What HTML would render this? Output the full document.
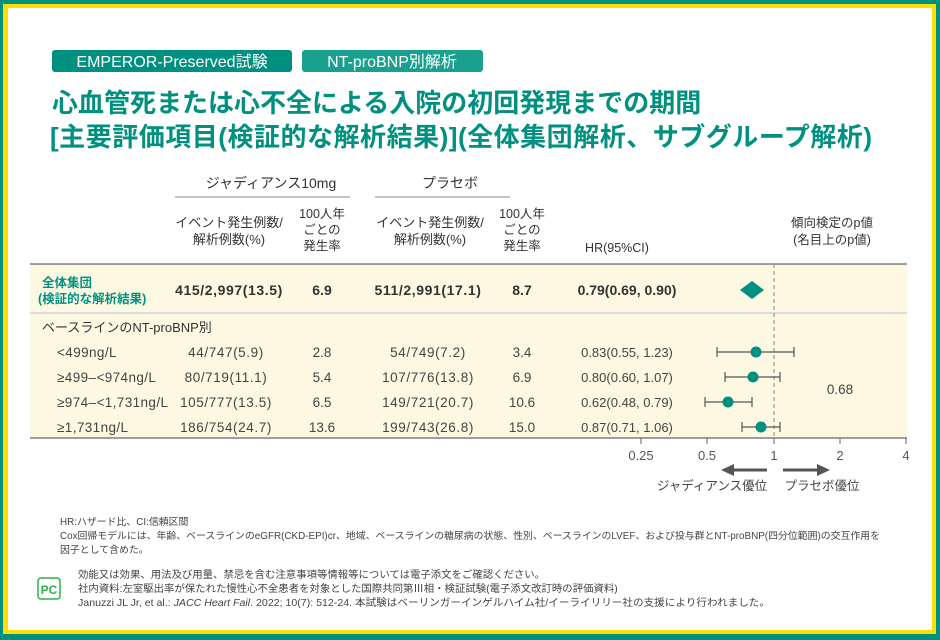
<!DOCTYPE html>
<html><head><meta charset="utf-8"><style>
body{margin:0;width:940px;height:640px;overflow:hidden;background:#fff;font-family:"Liberation Sans","Noto Sans CJK JP",sans-serif;}
</style></head><body>
<svg width="940" height="640" xmlns="http://www.w3.org/2000/svg" style="position:absolute;left:0;top:0;font-family:'Liberation Sans','Noto Sans CJK JP',sans-serif">
<rect x="0" y="0" width="940" height="640" fill="#009080"/>
<rect x="3" y="4" width="933" height="630" fill="#ffdf00"/>
<rect x="8" y="8" width="924" height="622" fill="#fff"/>
<rect x="52" y="50" width="240" height="22" rx="3" fill="#00907f"/>
<rect x="302" y="50" width="181" height="22" rx="3" fill="#1aa08f"/>
<text x="172" y="67" fill="#fff" font-size="16" text-anchor="middle">EMPEROR-Preserved試験</text>
<text x="392" y="67" fill="#fff" font-size="16" text-anchor="middle">NT-proBNP別解析</text>
<text x="52" y="112" fill="#00907f" font-size="26" font-weight="bold">心血管死または心不全による入院の初回発現までの期間</text>
<text x="50" y="146" fill="#00907f" font-size="26" font-weight="bold" textLength="822" lengthAdjust="spacing">[主要評価項目(検証的な解析結果)](全体集団解析、サブグループ解析)</text>
<g fill="#333" font-size="14" text-anchor="middle">
<text x="271" y="188">ジャディアンス10mg</text>
<text x="450" y="188">プラセボ</text>
<text x="229" y="227" font-size="13">イベント発生例数/</text>
<text x="229" y="244" font-size="13">解析例数(%)</text>
<text x="322" y="218" font-size="12.5">100人年</text>
<text x="322" y="234" font-size="12.5">ごとの</text>
<text x="322" y="250" font-size="12.5">発生率</text>
<text x="430" y="227" font-size="13">イベント発生例数/</text>
<text x="430" y="244" font-size="13">解析例数(%)</text>
<text x="522" y="218" font-size="12.5">100人年</text>
<text x="522" y="234" font-size="12.5">ごとの</text>
<text x="522" y="250" font-size="12.5">発生率</text>
<text x="617" y="252" font-size="12.5">HR(95%CI)</text>
<text x="832" y="227" font-size="12.5">傾向検定のp値</text>
<text x="832" y="244" font-size="12.5">(名目上のp値)</text>
</g>
<line x1="175" y1="197" x2="350" y2="197" stroke="#888" stroke-width="1"/>
<line x1="375" y1="197" x2="510" y2="197" stroke="#888" stroke-width="1"/>
<rect x="30" y="264" width="877" height="174" fill="#fdf8e1"/>
<line x1="30" y1="264" x2="907" y2="264" stroke="#666" stroke-width="1.2"/>
<line x1="30" y1="313" x2="907" y2="313" stroke="#ddd" stroke-width="2"/>
<line x1="30" y1="438" x2="907" y2="438" stroke="#666" stroke-width="1.2"/>
<text x="42" y="287" fill="#00907f" font-size="12.5" font-weight="bold">全体集団</text>
<text x="38" y="303" fill="#00907f" font-size="12.5" font-weight="bold">(検証的な解析結果)</text>
<g fill="#333" font-size="14" font-weight="bold" text-anchor="middle">
<text x="229" y="295" letter-spacing="0.6">415/2,997(13.5)</text><text x="322" y="295">6.9</text>
<text x="428" y="295" letter-spacing="0.6">511/2,991(17.1)</text><text x="522" y="295">8.7</text>
<text x="627" y="295">0.79(0.69, 0.90)</text>
</g>
<text x="42" y="332" fill="#333" font-size="13">ベースラインのNT-proBNP別</text>
<g fill="#444" font-size="13.5">
<g letter-spacing="0.4"><text x="57" y="357">&lt;499ng/L</text><text x="57" y="382">≥499–&lt;974ng/L</text><text x="57" y="407">≥974–&lt;1,731ng/L</text><text x="57" y="432">≥1,731ng/L</text></g>
<g text-anchor="middle">
<g letter-spacing="0.6">
<text x="226" y="357">44/747(5.9)</text><text x="428" y="357">54/749(7.2)</text>
<text x="226" y="382">80/719(11.1)</text><text x="428" y="382">107/776(13.8)</text>
<text x="226" y="407">105/777(13.5)</text><text x="428" y="407">149/721(20.7)</text>
<text x="226" y="432">186/754(24.7)</text><text x="428" y="432">199/743(26.8)</text>
</g>
<text x="322" y="357">2.8</text><text x="522" y="357">3.4</text><text x="627" y="357" font-size="13">0.83(0.55, 1.23)</text>
<text x="322" y="382">5.4</text><text x="522" y="382">6.9</text><text x="627" y="382" font-size="13">0.80(0.60, 1.07)</text>
<text x="322" y="407">6.5</text><text x="522" y="407">10.6</text><text x="627" y="407" font-size="13">0.62(0.48, 0.79)</text>
<text x="322" y="432">13.6</text><text x="522" y="432">15.0</text><text x="627" y="432" font-size="13">0.87(0.71, 1.06)</text>
<text x="840" y="394">0.68</text>
</g></g>
<line x1="774" y1="264" x2="774" y2="438" stroke="#888" stroke-dasharray="4,3"/>
<polygon points="740,290 752,281 764,290 752,299" fill="#00907f"/>
<g stroke="#555" stroke-width="1.2">
<line x1="717" y1="352" x2="794" y2="352"/><line x1="717" y1="347" x2="717" y2="357"/><line x1="794" y1="347" x2="794" y2="357"/>
<line x1="725" y1="377" x2="780" y2="377"/><line x1="725" y1="372" x2="725" y2="382"/><line x1="780" y1="372" x2="780" y2="382"/>
<line x1="705" y1="402" x2="752" y2="402"/><line x1="705" y1="397" x2="705" y2="407"/><line x1="752" y1="397" x2="752" y2="407"/>
<line x1="742" y1="427" x2="780" y2="427"/><line x1="742" y1="422" x2="742" y2="432"/><line x1="780" y1="422" x2="780" y2="432"/>
</g>
<g fill="#00907f"><circle cx="756" cy="352" r="5.5"/><circle cx="753" cy="377" r="5.5"/><circle cx="728" cy="402" r="5.5"/><circle cx="761" cy="427" r="5.5"/></g>
<g stroke="#666" stroke-width="1"><line x1="641" y1="438" x2="641" y2="444"/><line x1="707" y1="438" x2="707" y2="444"/><line x1="774" y1="438" x2="774" y2="444"/><line x1="840" y1="438" x2="840" y2="444"/><line x1="906" y1="438" x2="906" y2="444"/></g>
<g fill="#555" font-size="13" text-anchor="middle"><text x="641" y="460">0.25</text><text x="707" y="460">0.5</text><text x="774" y="460">1</text><text x="840" y="460">2</text><text x="906" y="460">4</text></g>
<line x1="733" y1="470" x2="767" y2="470" stroke="#555" stroke-width="3"/><polygon points="721,470 734,464 734,476" fill="#555"/>
<line x1="783" y1="470" x2="818" y2="470" stroke="#555" stroke-width="3"/><polygon points="830,470 817,464 817,476" fill="#555"/>
<text x="712" y="490" fill="#444" font-size="12.5" text-anchor="middle">ジャディアンス優位</text>
<text x="822" y="490" fill="#444" font-size="12.5" text-anchor="middle">プラセボ優位</text>
<g fill="#444" font-size="9.9">
<text x="60" y="525">HR:ハザード比、CI:信頼区間</text>
<text x="60" y="539" textLength="820" lengthAdjust="spacingAndGlyphs">Cox回帰モデルには、年齢、ベースラインのeGFR(CKD-EPI)cr、地域、ベースラインの糖尿病の状態、性別、ベースラインのLVEF、および投与群とNT-proBNP(四分位範囲)の交互作用を</text>
<text x="60" y="553">因子として含めた。</text>
</g>
<g fill="#444" font-size="10.4">
<text x="78" y="578">効能又は効果、用法及び用量、禁忌を含む注意事項等情報等については電子添文をご確認ください。</text>
<text x="78" y="592">社内資料:左室駆出率が保たれた慢性心不全患者を対象とした国際共同第Ⅲ相・検証試験(電子添文改訂時の評価資料)</text>
<text x="78" y="606" textLength="692" lengthAdjust="spacingAndGlyphs">Januzzi JL Jr, et al.: <tspan font-style="italic">JACC Heart Fail</tspan>. 2022; 10(7): 512-24. 本試験はベーリンガーインゲルハイム社/イーライリリー社の支援により行われました。</text>
</g>
<rect x="38" y="578" width="22" height="21" rx="3" fill="#fff" stroke="#2bb34a" stroke-width="1.5"/>
<text x="49" y="594" fill="#2bb34a" font-size="12" font-weight="bold" text-anchor="middle">PC</text>
</svg>
</body></html>
